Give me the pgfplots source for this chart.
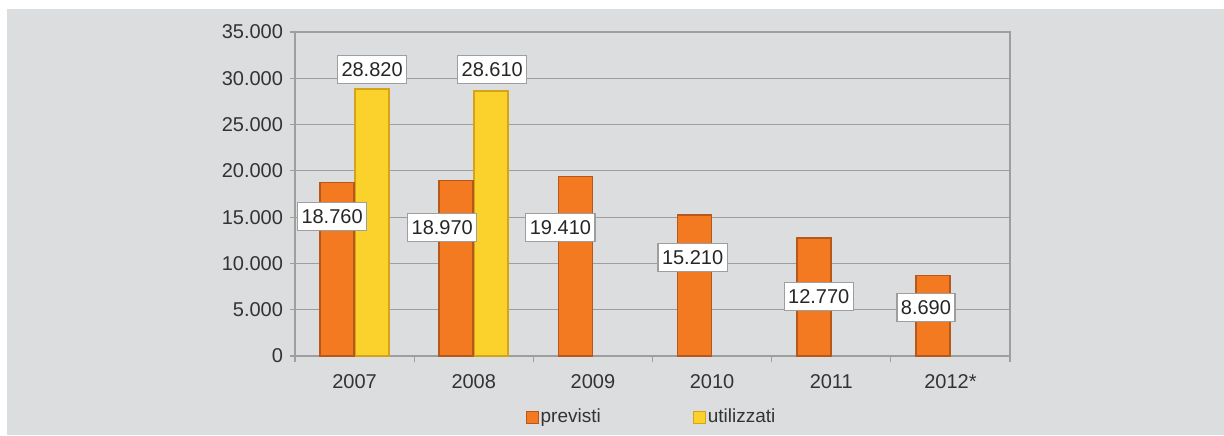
\documentclass[border=0pt]{standalone}
\usepackage{pgfplots}
\pgfplotsset{compat=1.18}
\usepackage{pgfplotstable}
\usepackage{fontspec}
\setmainfont{Liberation Sans}

\definecolor{bg}{HTML}{DCDDDF}
\definecolor{gridc}{HTML}{9E9E9E}
\definecolor{txt}{HTML}{333333}
\definecolor{prev}{HTML}{F37A20}
\definecolor{prevdark}{HTML}{B5581A}
\definecolor{util}{HTML}{FBD22B}
\definecolor{utildark}{HTML}{D4A318}

% dx, dy: label offset from bar top, in pixels of the reference (dy upwards)
\pgfplotstableread{
x y dx dy
0 18760 -5 -34
1 18970 -14 -47
2 19410 -15 -51
3 15210 -2 -42
4 12770 5 -59
5 8690 -7 -32
}\previsti

\pgfplotstableread{
x y dx dy
0 28820 0 20
1 28610 1 22
}\utilizzati

\pgfplotsset{/pgf/number format/.cd, 1000 sep={.}, assume math mode=true}
\pgfplotsset{
  % #1: bar shift of the series, re-applied to its labels
  labelled/.style={
    bar shift=#1,
    nodes near coords,
    visualization depends on={\thisrow{dx}\as\dx},
    visualization depends on={\thisrow{dy}\as\dy},
    every node near coord/.append style={
        anchor=center, xshift=#1+\dx*0.5pt, yshift=\dy*0.5pt,
        fill=white, draw=gridc, line width=0.6pt,
        font=\fontsize{10}{12}\selectfont, text=black!85,
        inner xsep=2pt, inner ysep=3.5pt, text height=7pt, text depth=0pt},
  },
  sq legend/.style={legend image code/.code={
    \draw[##1, line width=0.5pt] (0pt,-3pt) rectangle (6pt,3pt);}},
}

\begin{document}
\begin{tikzpicture}
\useasboundingbox (0,0) rectangle (612pt,217.5pt);
\fill[white] (0,0) rectangle (612pt,217.5pt);
\fill[bg] (3.5pt,0) rectangle (612pt,213pt);

\begin{axis}[
    at={(147.5pt,39.5pt)}, anchor=south west,
    scale only axis,
    width=357.5pt, height=162pt,
    xmin=-0.5, xmax=5.5,
    ymin=0, ymax=35000,
    ytick={0,5000,...,35000},
    scaled y ticks=false,
    xtick={0,...,5},
    xticklabels={2007,2008,2009,2010,2011,2012*},
    minor xtick={-0.5,0.5,...,5.5},
    tick pos=left,
    tick align=outside,
    major tick length=2.5pt,
    minor tick length=3pt,
    x tick style={draw=none},
    minor x tick style={draw=gridc, line width=0.6pt},
    y tick style={draw=gridc, line width=0.6pt},
    ymajorgrids,
    grid style={gridc, line width=0.6pt},
    axis line style={gridc, line width=0.6pt},
    tick label style={font=\fontsize{10}{12}\selectfont, text=txt},
    xticklabel style={yshift=-3pt},
    bar width=17pt,
    legend columns=2,
    legend style={at={(0.5,-0.19)}, anchor=center, draw=none, fill=none,
        font=\fontsize{9.5}{11}\selectfont, text=txt,
        inner xsep=0pt,
        /tikz/every odd column/.append style={column sep=-1pt},
        /tikz/every even column/.append style={column sep=44pt}},
]
\addlegendimage{sq legend, fill=prev, draw=prevdark}
\addlegendentry{previsti}
\addlegendimage{sq legend, fill=util, draw=utildark}
\addlegendentry{utilizzati}
\addplot[ybar, fill=util, draw=utildark, line width=0.8pt, labelled=8.75pt, forget plot]
    table[x=x, y=y] {\utilizzati};
\addplot[ybar, fill=prev, draw=prevdark, line width=0.8pt, labelled=-8.75pt, forget plot]
    table[x=x, y=y] {\previsti};
\end{axis}
\end{tikzpicture}
\end{document}
